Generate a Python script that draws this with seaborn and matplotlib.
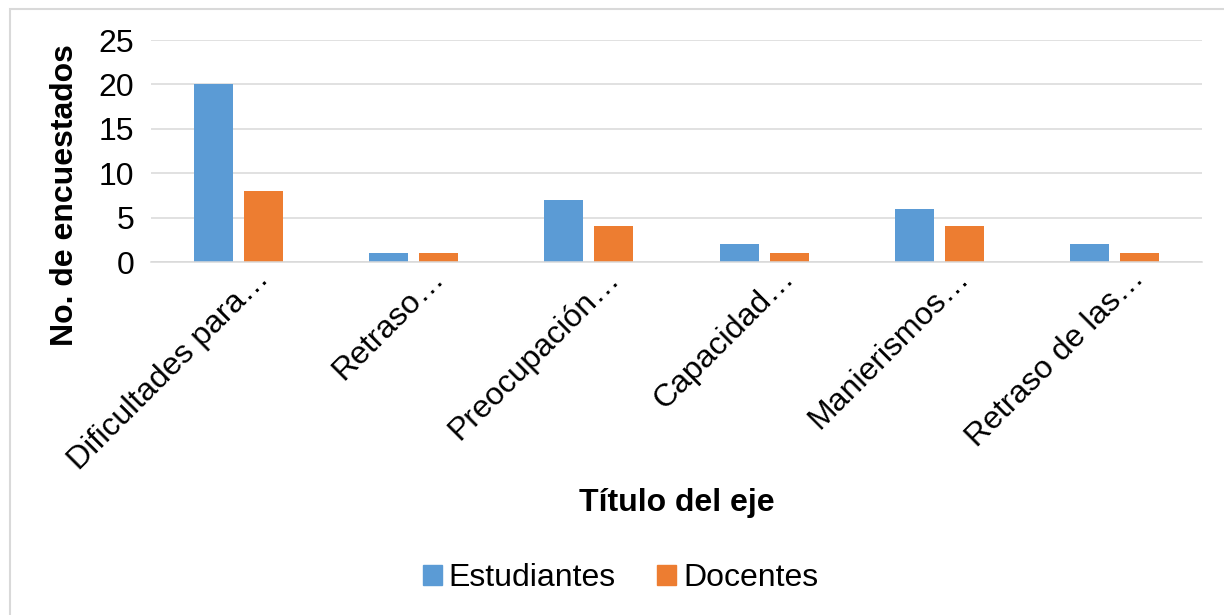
import pandas as pd
import seaborn as sns
import matplotlib.pyplot as plt
from matplotlib.patches import Rectangle
from matplotlib.transforms import ScaledTranslation

# categories as shown (Excel truncates the long labels)
categorias = ['Dificultades para…', 'Retraso…', 'Preocupación…',
              'Capacidad…', 'Manierismos…', 'Retraso de las…']
estudiantes = [20, 1, 7, 2, 6, 2]
docentes = [8, 1, 4, 1, 4, 1]
series = ['Estudiantes', 'Docentes']
colores = ['#5B9BD5', '#ED7D31']

df = pd.DataFrame({
    'categoria': categorias * 2,
    'valor': estudiantes + docentes,
    'grupo': [series[0]] * len(categorias) + [series[1]] * len(categorias),
})

sns.set_style('white')
plt.rcParams['font.family'] = ['Liberation Sans', 'DejaVu Sans']
plt.rcParams['text.color'] = 'black'
plt.rcParams['axes.labelcolor'] = 'black'

fig = plt.figure(figsize=(12.24, 6.15), dpi=100)
ax = fig.add_axes([151 / 1224, 1 - 262 / 615, (1202 - 151) / 1224, (262 - 40) / 615])

sns.barplot(data=df, x='categoria', y='valor', hue='grupo', palette=colores,
            saturation=1, width=0.571, gap=0.22, linewidth=0, ax=ax, legend=False)

ax.set_ylim(0, 25)
ax.set_yticks([0, 5, 10, 15, 20, 25])
ax.yaxis.grid(True, color='#d9d9d9', linewidth=1.1)
ax.set_axisbelow(True)
for s in ['top', 'right', 'left']:
    ax.spines[s].set_visible(False)
ax.spines['bottom'].set_color('#d9d9d9')
ax.spines['bottom'].set_linewidth(1.1)
ax.tick_params(axis='both', length=0, labelsize=23, colors='black')
ax.tick_params(axis='y', pad=12)
ax.tick_params(axis='x', pad=6)
shift = ScaledTranslation(0.15, 0.07, fig.dpi_scale_trans)
for lbl in ax.get_xticklabels():
    lbl.set_rotation(45)
    lbl.set_ha('right')
    lbl.set_va('top')
    lbl.set_rotation_mode('anchor')
    lbl.set_transform(lbl.get_transform() + shift)

ax.set_xlabel('Título del eje', fontsize=23, fontweight='bold')
ax.xaxis.set_label_coords(0.5, -1.086)
ax.xaxis.label.set_va('center')
ax.set_ylabel('No. de encuestados', fontsize=23, fontweight='bold')
ax.yaxis.set_label_coords(-0.082, 0.30)
ax.yaxis.label.set_va('center')

handles = [Rectangle((0, 0), 1, 1, color=c) for c in colores]
fig.legend(handles, series, loc='center', bbox_to_anchor=(0.507, 1 - 578 / 615),
           ncol=2, frameon=False, fontsize=23, handlelength=0.6, handleheight=0.6,
           handletextpad=0.2, columnspacing=1.3)

# light chart-area border (left and top edges visible)
fig.add_artist(Rectangle((10 / 1224, -0.1), 1.2, 1.1 - 9 / 615, transform=fig.transFigure,
                         fill=False, edgecolor='#d9d9d9', linewidth=1.5))

fig.savefig('out.png', dpi=100)
